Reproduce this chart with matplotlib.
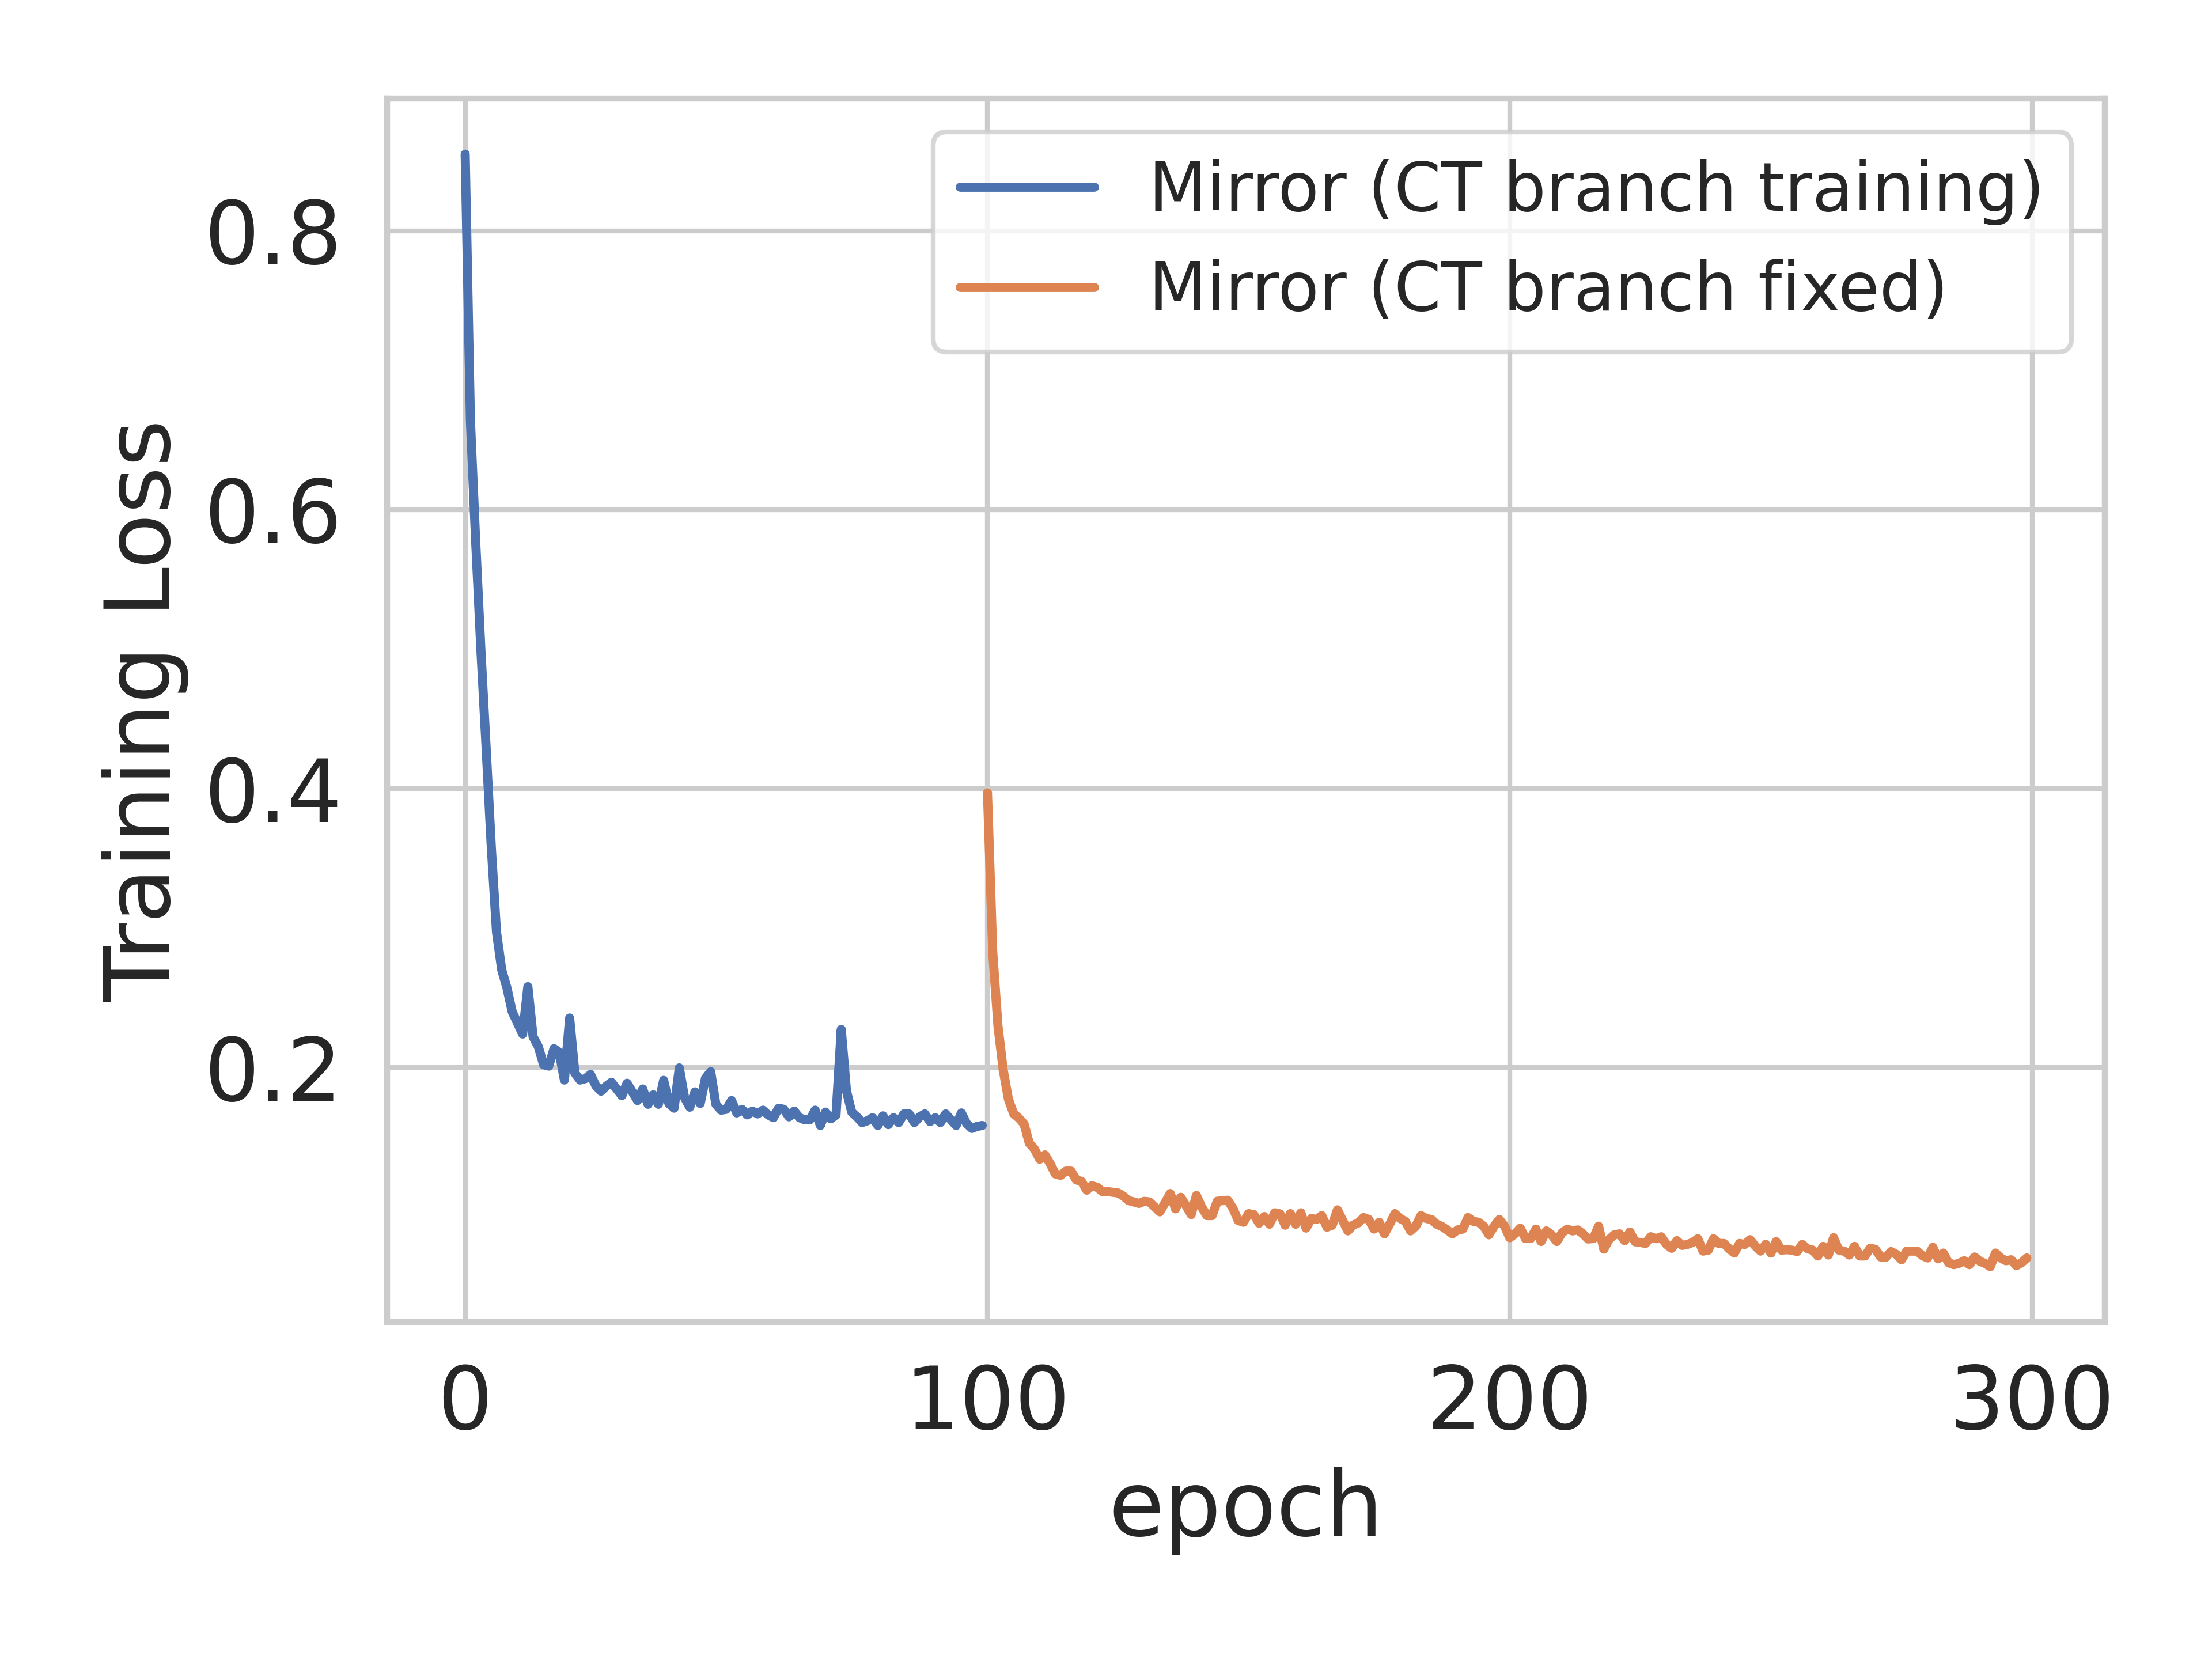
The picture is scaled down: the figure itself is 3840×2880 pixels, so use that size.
import matplotlib
matplotlib.use('Agg')
import matplotlib.pyplot as plt
import seaborn as sns

# training loss, CT branch trained (epochs 0-99)
loss_training = [
    0.855, 0.664, 0.578, 0.50, 0.43, 0.358, 0.297, 0.27, 0.257, 0.240,
    0.232, 0.224, 0.258, 0.222, 0.215, 0.202, 0.201, 0.2135, 0.211, 0.191,
    0.2355, 0.196, 0.191, 0.192, 0.195, 0.187, 0.183, 0.1866, 0.1894, 0.1846,
    0.1798, 0.1887, 0.1825, 0.1763, 0.1846, 0.1736, 0.1804, 0.1736, 0.1908, 0.1742,
    0.1708, 0.1997, 0.1784, 0.1715, 0.1825, 0.1742, 0.1922, 0.197, 0.1736, 0.1694,
    0.170, 0.1763, 0.1674, 0.170, 0.166, 0.1687, 0.1667, 0.1694, 0.166, 0.164,
    0.1708, 0.170, 0.1646, 0.1687, 0.164, 0.1625, 0.1625, 0.1694, 0.1584, 0.168,
    0.1632, 0.166, 0.2273, 0.1832, 0.168, 0.1646, 0.1605, 0.1618, 0.164, 0.1584,
    0.1653, 0.159, 0.164, 0.1605, 0.1667, 0.1667, 0.1605, 0.1646, 0.1667, 0.1612,
    0.164, 0.1605, 0.1667, 0.1625, 0.1584, 0.1674, 0.1598, 0.1563, 0.1577, 0.1584,
]

# training loss, CT branch fixed (epochs 100-299)
loss_fixed = [
    0.397, 0.283, 0.230, 0.1985, 0.1774, 0.1669, 0.1637, 0.1595, 0.1457, 0.1415,
    0.1342, 0.1373, 0.131, 0.1236, 0.1226, 0.1257, 0.1257, 0.1194, 0.1183, 0.112,
    0.1152, 0.1141, 0.111, 0.111, 0.1105, 0.110, 0.1078, 0.1046, 0.1036, 0.1025,
    0.104, 0.1036, 0.100, 0.0965, 0.103, 0.1096, 0.0986, 0.1069, 0.101, 0.0945,
    0.1082, 0.1000, 0.0938, 0.0938, 0.1041, 0.1045, 0.1048, 0.0990, 0.0903, 0.0890,
    0.0952, 0.0945, 0.0883, 0.0931, 0.0876, 0.0958, 0.0950, 0.0869, 0.0952, 0.0876,
    0.0958, 0.0848, 0.0917, 0.0910, 0.0938, 0.0855, 0.0869, 0.0979, 0.0903, 0.0828,
    0.0870, 0.0885, 0.0924, 0.0910, 0.0841, 0.0890, 0.0807, 0.0876, 0.0952, 0.0917,
    0.0897, 0.0828, 0.0862, 0.0938, 0.0917, 0.0910, 0.0876, 0.0860, 0.0835, 0.0807,
    0.0835, 0.0841, 0.0924, 0.0897, 0.0890, 0.0862, 0.0800, 0.0862, 0.0910, 0.0862,
    0.0779, 0.0807, 0.0848, 0.0773, 0.0773, 0.0841, 0.0752, 0.0828, 0.0800, 0.0752,
    0.0814, 0.0841, 0.0828, 0.0835, 0.0807, 0.0770, 0.0773, 0.0862, 0.0697, 0.0766,
    0.0800, 0.0807, 0.0758, 0.0820, 0.0750, 0.0745, 0.0738, 0.0786, 0.0772, 0.0786,
    0.0731, 0.0703, 0.0758, 0.0724, 0.0731, 0.0745, 0.0772, 0.0683, 0.0690, 0.0772,
    0.0738, 0.0738, 0.0700, 0.0669, 0.0738, 0.0731, 0.0765, 0.0720, 0.0683, 0.0731,
    0.0669, 0.0751, 0.0690, 0.0693, 0.0690, 0.0680, 0.0731, 0.0700, 0.0690, 0.0648,
    0.0717, 0.0655, 0.0779, 0.0690, 0.0683, 0.0655, 0.0717, 0.0648, 0.0648, 0.0703,
    0.0696, 0.0641, 0.0639, 0.0680, 0.0660, 0.0621, 0.0683, 0.0683, 0.0683, 0.0650,
    0.0634, 0.0710, 0.0628, 0.0669, 0.0600, 0.0586, 0.0595, 0.0614, 0.0586, 0.0641,
    0.0610, 0.0595, 0.0572, 0.0669, 0.0634, 0.0614, 0.0621, 0.0579, 0.0600, 0.0634,
]

label_training = 'Mirror (CT branch training)'
label_fixed = 'Mirror (CT branch fixed)'

sns.set_style('whitegrid')
plt.rcParams['axes.linewidth'] = 1.25
plt.rcParams['grid.linewidth'] = 1.0

epochs_training = list(range(len(loss_training)))
start = len(loss_training)
epochs_fixed = list(range(start, start + len(loss_fixed)))

fig, ax = plt.subplots(figsize=(6.4, 4.8), dpi=600)
fig.subplots_adjust(left=0.175, right=0.9516, top=0.9406, bottom=0.203)

ax.plot(epochs_training, loss_training, color='#4C72B0', lw=1.9,
        label=label_training)
ax.plot(epochs_fixed, loss_fixed, color='#DD8452', lw=1.9,
        label=label_fixed)

ax.set_xlabel('epoch', fontsize=18.8, color='.15', labelpad=4)
ax.set_ylabel('Training Loss', fontsize=18.8, color='.15', labelpad=3)
ax.set_xticks([0, 100, 200, 300])
ax.set_yticks([0.2, 0.4, 0.6, 0.8])
ax.tick_params(axis='x', labelsize=18.1, colors='.15', length=0, pad=8.5)
ax.tick_params(axis='y', labelsize=18.1, colors='.15', length=0, pad=9.4)
ax.legend(loc='upper right', fontsize=14)

fig.savefig('out.png', dpi=600)
